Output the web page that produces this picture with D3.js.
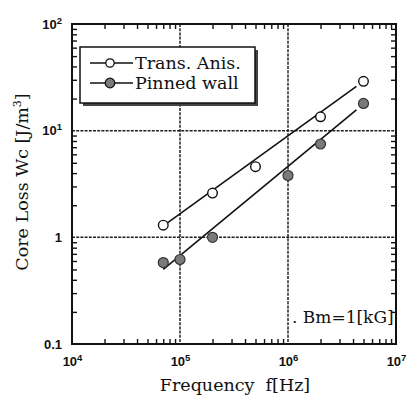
<!DOCTYPE html>
<html>
<head>
<meta charset="utf-8">
<script src="https://cdn.jsdelivr.net/npm/d3@7"></script>
<style>
  body { margin: 0; background: #fff; }
  svg { display: block; }
</style>
</head>
<body>
<div id="chart"></div>
<script>
// measured points
const freqTrans = [7e4, 2e5, 5e5, 2e6, 5e6];
const lossTrans = [1.3, 2.6, 4.6, 13.5, 29];
const freqPinned = [7e4, 1e5, 2e5, 1e6, 2e6, 5e6];
const lossPinned = [0.58, 0.62, 1.0, 3.8, 7.5, 18];

// fitted lines (end points)
const fitFreq = [7e4, 4.3e6];
const fitTrans = [1.28, 26];
const fitPinned = [0.5, 15.7];

const xDecades = [1e4, 1e5, 1e6, 1e7];
const yDecades = [0.1, 1, 10, 100];
const seriesNames = ['Trans. Anis.', 'Pinned wall'];

const width = 411, height = 396;
const margin = { top: 24, right: 15, bottom: 52, left: 72 };
const innerW = width - margin.left - margin.right;
const innerH = height - margin.top - margin.bottom;

const svg = d3.select('#chart').append('svg')
  .attr('width', width)
  .attr('height', height);

const g = svg.append('g')
  .attr('transform', `translate(${margin.left},${margin.top})`);

const x = d3.scaleLog().domain([1e4, 1e7]).range([0, innerW]);
const y = d3.scaleLog().domain([0.1, 100]).range([innerH, 0]);

// minor tick positions 2..9 in every decade
const minorX = [];
[1e4, 1e5, 1e6].forEach(d => { for (let k = 2; k <= 9; k++) minorX.push(d * k); });
const minorY = [];
[0.1, 1, 10].forEach(d => { for (let k = 2; k <= 9; k++) minorY.push(d * k); });

// grid lines at inner decades
g.selectAll('.vgrid')
  .data(xDecades.slice(1, 3))
  .enter().append('line')
  .attr('x1', d => x(d)).attr('x2', d => x(d))
  .attr('y1', 0).attr('y2', innerH)
  .attr('stroke', '#222').attr('stroke-width', 1.5)
  .attr('stroke-dasharray', '3,1.2');

g.selectAll('.hgrid')
  .data(yDecades.slice(1, 3))
  .enter().append('line')
  .attr('x1', 0).attr('x2', innerW)
  .attr('y1', d => y(d)).attr('y2', d => y(d))
  .attr('stroke', '#222').attr('stroke-width', 1.5)
  .attr('stroke-dasharray', '3,1.2');

// inward minor ticks on all four sides
function tickAxis(axis, tx, ty) {
  const a = g.append('g')
    .attr('transform', `translate(${tx},${ty})`)
    .call(axis);
  a.select('.domain').remove();
  a.selectAll('line').attr('stroke', '#111').attr('stroke-width', 1.4);
  return a;
}
tickAxis(d3.axisBottom(x).tickValues(minorX).tickSize(-5).tickFormat(''), 0, innerH);
tickAxis(d3.axisTop(x).tickValues(minorX).tickSize(-5).tickFormat(''), 0, 0);
tickAxis(d3.axisLeft(y).tickValues(minorY).tickSize(-5).tickFormat(''), 0, 0);
tickAxis(d3.axisRight(y).tickValues(minorY).tickSize(-5).tickFormat(''), innerW, 0);

// frame
g.append('rect')
  .attr('width', innerW).attr('height', innerH)
  .attr('fill', 'none').attr('stroke', '#111').attr('stroke-width', 2);

// tick labels with superscripts
function powLabel(sel, d) {
  const e = Math.round(Math.log10(d));
  sel.text(null);
  if (e === 0) { sel.text('1'); return; }
  if (e === -1) { sel.text('0.1'); return; }
  sel.append('tspan').text('10');
  sel.append('tspan').attr('dy', -5).attr('font-size', 9.5).text(e);
}

const xl = g.append('g')
  .attr('transform', `translate(0,${innerH})`)
  .call(d3.axisBottom(x).tickValues(xDecades).tickSize(0).tickPadding(13));
xl.select('.domain').remove();
xl.selectAll('text')
  .attr('font-family', '"Liberation Sans", Arial, sans-serif')
  .attr('font-weight', 'bold').attr('font-size', 13).attr('fill', '#111')
  .each(function (d) { powLabel(d3.select(this), d); });

const yl = g.append('g')
  .call(d3.axisLeft(y).tickValues(yDecades).tickSize(0).tickPadding(10));
yl.select('.domain').remove();
yl.selectAll('text')
  .attr('font-family', '"Liberation Sans", Arial, sans-serif')
  .attr('font-weight', 'bold').attr('font-size', 13).attr('fill', '#111')
  .each(function (d) { powLabel(d3.select(this), d); });

// fitted lines
const line = d3.line().x(d => x(d[0])).y(d => y(d[1]));
g.append('path')
  .datum(d3.zip(fitFreq, fitTrans))
  .attr('d', line).attr('fill', 'none')
  .attr('stroke', '#111').attr('stroke-width', 1.6);
g.append('path')
  .datum(d3.zip(fitFreq, fitPinned))
  .attr('d', line).attr('fill', 'none')
  .attr('stroke', '#111').attr('stroke-width', 1.6);

// markers
g.selectAll('.trans')
  .data(d3.zip(freqTrans, lossTrans))
  .enter().append('circle')
  .attr('cx', d => x(d[0])).attr('cy', d => y(d[1]))
  .attr('r', 4.8).attr('fill', '#fff')
  .attr('stroke', '#111').attr('stroke-width', 1.4);

g.selectAll('.pinned')
  .data(d3.zip(freqPinned, lossPinned))
  .enter().append('circle')
  .attr('cx', d => x(d[0])).attr('cy', d => y(d[1]))
  .attr('r', 5).attr('fill', '#7a7a7a')
  .attr('stroke', '#333').attr('stroke-width', 1.2);

// legend
const serif = '"DejaVu Serif", "Liberation Serif", serif';
const lg = svg.append('g').attr('transform', 'translate(80,47)');
lg.append('rect')
  .attr('x', 3).attr('y', 3).attr('width', 175).attr('height', 56)
  .attr('fill', '#444');
lg.append('rect')
  .attr('width', 175).attr('height', 56)
  .attr('fill', '#fff').attr('stroke', '#111').attr('stroke-width', 1.5);

seriesNames.forEach((name, i) => {
  const row = lg.append('g').attr('transform', `translate(0,${16 + i * 20})`);
  row.append('line')
    .attr('x1', 10).attr('x2', 53).attr('y1', 0).attr('y2', 0)
    .attr('stroke', '#111').attr('stroke-width', 1.5);
  row.append('circle')
    .attr('cx', 30).attr('cy', 0).attr('r', i === 0 ? 4.2 : 4.8)
    .attr('fill', i === 0 ? '#fff' : '#7a7a7a')
    .attr('stroke', '#111').attr('stroke-width', 1.3);
  row.append('text')
    .attr('x', 55).attr('y', 6)
    .attr('font-family', serif).attr('font-size', 17.5).attr('fill', '#111')
    .text(name);
});

// annotation
svg.append('text')
  .attr('x', 292).attr('y', 323)
  .attr('font-family', serif).attr('font-size', 17).attr('fill', '#111')
  .text('. Bm=1[kG]');

// axis titles
svg.append('text')
  .attr('x', 235).attr('y', 391)
  .attr('text-anchor', 'middle')
  .attr('font-family', serif).attr('font-size', 17.5).attr('fill', '#111')
  .style('white-space', 'pre')
  .text('Frequency  f[Hz]');

const yt = svg.append('text')
  .attr('transform', 'translate(28,182) rotate(-90)')
  .attr('text-anchor', 'middle')
  .attr('font-family', serif).attr('font-size', 17.5).attr('fill', '#111');
yt.append('tspan').text('Core Loss Wc [J/m');
yt.append('tspan').attr('dy', -7).attr('font-size', 11).text('3');
yt.append('tspan').attr('dy', 7).text(']');
</script>
</body>
</html>
